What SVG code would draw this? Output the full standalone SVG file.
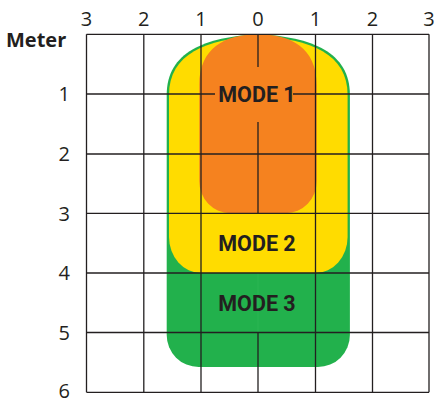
<svg xmlns="http://www.w3.org/2000/svg" width="434" height="402" viewBox="0 0 434 402">
  <style>
    .grid { stroke: #231f20; stroke-width: 1.3; fill: none; }
    .axis { font-family: "Open Sans", "Liberation Sans", sans-serif; font-size: 20px; fill: #231f20; }
    .mode { font-family: Roboto, "Liberation Sans", sans-serif; font-weight: bold; font-size: 21.5px; fill: #231f20; text-anchor: middle; }
  </style>
  <rect width="434" height="402" fill="#ffffff"/>

  <!-- coverage zones -->
  <g id="mode3">
    <path d="M 166.7,95 C 166.7,52 205,37 258.3,34.3 C 311.6,37 349.9,52 349.9,95 V 335 A 32 32 0 0 1 317.9,367 H 198.7 A 32 32 0 0 1 166.7,335 Z" fill="#22b14c"/>
    <line x1="258" y1="273" x2="258" y2="332.5" stroke="#2ab552" stroke-width="1"/>
  </g>
  <g id="mode2">
    <path d="M 169,95 C 169,54 206,39 258.3,36.3 C 310.6,39 347.6,54 347.6,95 V 237 A 32 36 0 0 1 315.6,273 H 201 A 32 36 0 0 1 169,237 Z" fill="#ffdc00"/>
  </g>
  <g id="mode1">
    <path d="M 199.3,85 C 199.3,48 225,34.3 258,34.3 C 291,34.3 316.7,48 316.7,85 V 181 A 31 32 0 0 1 285.7,213.3 H 230.3 A 31 32 0 0 1 199.3,181 Z" fill="#f5821f"/>
  </g>

  <!-- metre grid -->
  <g id="grid" class="grid">
    <line x1="86.5" y1="34.3" x2="86.5" y2="392.3"/>
    <line x1="143.8" y1="34.3" x2="143.8" y2="392.3"/>
    <line x1="201" y1="34.3" x2="201" y2="392.3"/>
    <line x1="258" y1="34.3" x2="258" y2="67"/>
    <line x1="258" y1="122" x2="258" y2="213.3"/>
    <line x1="258" y1="332.5" x2="258" y2="392.3"/>
    <line x1="315.5" y1="34.3" x2="315.5" y2="392.3"/>
    <line x1="372.5" y1="34.3" x2="372.5" y2="392.3"/>
    <line x1="429" y1="34.3" x2="429" y2="392.3"/>

    <line x1="86.5" y1="34.3" x2="429" y2="34.3"/>
    <line x1="86.5" y1="94" x2="215" y2="94"/>
    <line x1="293" y1="94" x2="429" y2="94"/>
    <line x1="86.5" y1="154" x2="429" y2="154"/>
    <line x1="86.5" y1="213.3" x2="429" y2="213.3"/>
    <line x1="86.5" y1="273" x2="429" y2="273"/>
    <line x1="86.5" y1="332.5" x2="429" y2="332.5"/>
    <line x1="86.5" y1="392.3" x2="429" y2="392.3"/>
  </g>

  <!-- zone labels -->
  <g id="labels">
    <text class="mode" x="257" y="101.7">MODE 1</text>
    <text class="mode" x="257" y="251">MODE 2</text>
    <text class="mode" x="257" y="310.5">MODE 3</text>
  </g>

  <!-- axis labels -->
  <g id="axes" class="axis">
    <g text-anchor="middle">
      <text x="86.5" y="26">3</text>
      <text x="143.8" y="26">2</text>
      <text x="201" y="26">1</text>
      <text x="258" y="26">0</text>
      <text x="315.5" y="26">1</text>
      <text x="372.5" y="26">2</text>
      <text x="429" y="26">3</text>
    </g>
    <text x="6" y="47.3" font-weight="bold">Meter</text>
    <g text-anchor="end">
      <text x="70" y="101.3">1</text>
      <text x="70" y="161.2">2</text>
      <text x="70" y="220.6">3</text>
      <text x="70" y="280.2">4</text>
      <text x="70" y="339.7">5</text>
      <text x="70" y="397.5">6</text>
    </g>
  </g>
</svg>
